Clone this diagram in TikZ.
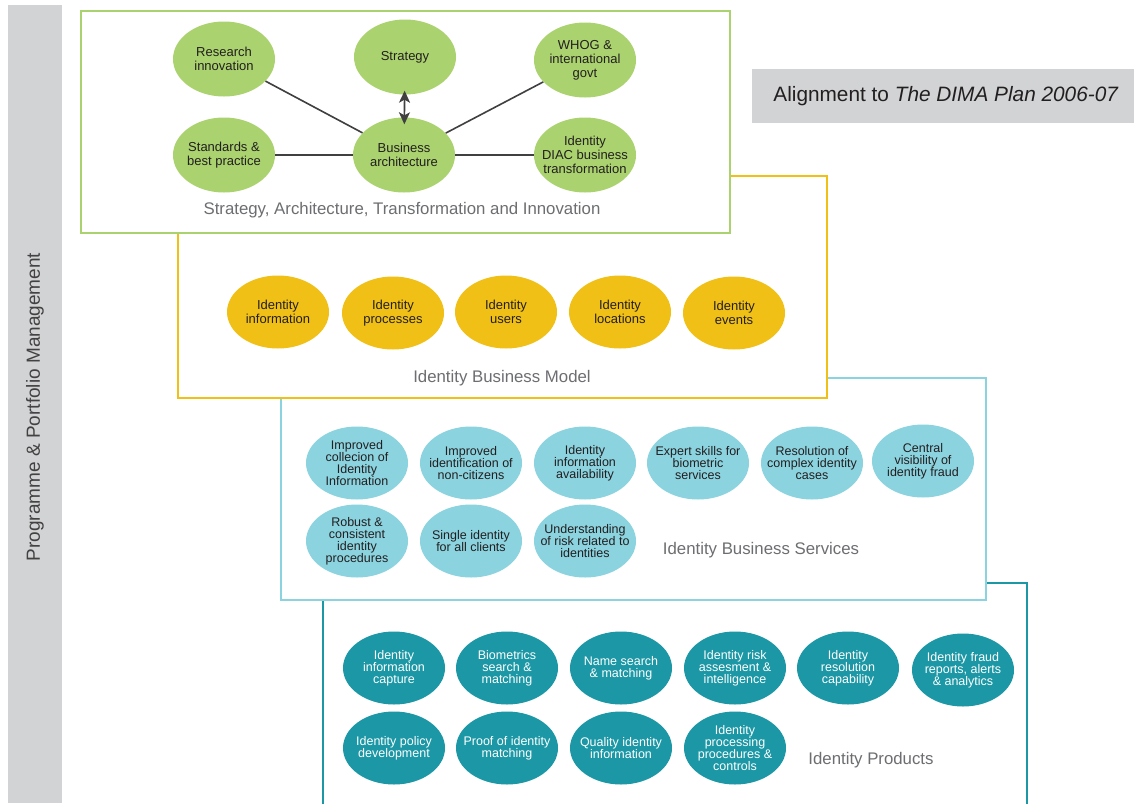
\documentclass[tikz,border=0pt]{standalone}
\usepackage{fontspec}
\setmainfont{Liberation Sans}
\usetikzlibrary{arrows.meta, shapes.geometric}
\definecolor{leafgreen}{RGB}{170,210,110}
\definecolor{goldyellow}{RGB}{241,192,22}
\definecolor{paleteal}{RGB}{139,211,223}
\definecolor{deepteal}{RGB}{27,151,165}
\definecolor{panelgray}{RGB}{209,211,212}
\definecolor{captiongray}{RGB}{109,110,113}
\definecolor{inkgray}{RGB}{35,31,32}
\definecolor{linkgray}{RGB}{64,64,64}

\tikzset{
  bubble/.style={ellipse, minimum width=102pt, minimum height=73pt, inner sep=0pt},
  smalltxt/.style={align=center, text=inkgray, font=\fontsize{12.5}{12}\selectfont},
  bigtxt/.style={align=center, text=inkgray, font=\fontsize{13}{14}\selectfont},
  caption/.style={text=captiongray, font=\fontsize{16.8}{18}\selectfont},
  link/.style={draw=linkgray, line width=1.6pt},
  layerbox/.style={line width=2.8pt, fill=white},
}

\begin{document}
\begin{tikzpicture}[x=1pt, y=-1pt]
  \useasboundingbox (0,0) rectangle (1134,803);

  % SIDE PANEL
  \fill[panelgray] (8,5) rectangle (62,803);
  \node[rotate=90, text=inkgray!85, font=\fontsize{19}{20}\selectfont] (ppm) at (35,407) {Programme \& Portfolio Management};

  % ALIGNMENT TAG
  \fill[panelgray] (752,69) rectangle (1134,123);
  \node[text=inkgray, font=\fontsize{20.8}{22}\selectfont] (dima) at (946,96) {Alignment to \textit{The DIMA Plan 2006-07}};

  % PRODUCTS
  \draw[layerbox, draw=deepteal] (323,815) -- (323,583) -- (1027,583) -- (1027,815);
  \node[bubble, fill=deepteal, label={[smalltxt, text=white]center:{Identity\\information\\capture}}] (capt) at (394,668) {};
  \node[bubble, fill=deepteal, label={[smalltxt, text=white]center:{Biometrics\\search \&\\matching}}] (biom) at (507,668) {};
  \node[bubble, fill=deepteal, label={[smalltxt, text=white]center:{Name search\\\& matching}}] (name) at (621,668) {};
  \node[bubble, fill=deepteal, label={[smalltxt, text=white]center:{Identity risk\\assesment \&\\intelligence}}] (risk) at (735,668) {};
  \node[bubble, fill=deepteal, label={[smalltxt, text=white]center:{Identity\\resolution\\capability}}] (reso) at (848,668) {};
  \node[bubble, fill=deepteal, label={[smalltxt, text=white]center:{Identity fraud\\reports, alerts\\\& analytics}}] (frau) at (963,670) {};
  \node[bubble, fill=deepteal, label={[smalltxt, text=white]center:{Identity policy\\development}}] (poli) at (394,748) {};
  \node[bubble, fill=deepteal, label={[smalltxt, text=white]center:{Proof of identity\\matching}}] (proof) at (507,748) {};
  \node[bubble, fill=deepteal, label={[smalltxt, text=white]center:{Quality identity\\information}}] (qual) at (621,748) {};
  \node[bubble, fill=deepteal, label={[smalltxt, text=white]center:{Identity\\processing\\procedures \&\\controls}}] (ctrl) at (735,748) {};
  \node[caption] (prodcap) at (871,760) {Identity Products};

  % BUSINESS SERVICES
  \draw[layerbox, draw=paleteal] (281,378) rectangle (986,600);
  \node[bubble, fill=paleteal, label={[smalltxt]center:{Improved\\collecion of\\Identity\\Information}}] (coll) at (357,463) {};
  \node[bubble, fill=paleteal, label={[smalltxt]center:{Improved\\identification of\\non-citizens}}] (nonc) at (471,463) {};
  \node[bubble, fill=paleteal, label={[smalltxt]center:{Identity\\information\\availability}}] (avail) at (585,463) {};
  \node[bubble, fill=paleteal, label={[smalltxt]center:{Expert skills for\\biometric\\services}}] (skill) at (698,463) {};
  \node[bubble, fill=paleteal, label={[smalltxt]center:{Resolution of\\complex identity\\cases}}] (cases) at (812,463) {};
  \node[bubble, fill=paleteal, label={[smalltxt]center:{Central\\visibility of\\identity fraud}}] (visi) at (923,461) {};
  \node[bubble, fill=paleteal, label={[smalltxt]center:{Robust \&\\consistent\\identity\\procedures}}] (robu) at (357,541) {};
  \node[bubble, fill=paleteal, label={[smalltxt]center:{Single identity\\for all clients}}] (single) at (471,541) {};
  \node[bubble, fill=paleteal, label={[smalltxt]center:{Understanding\\of risk related to\\identities}}] (under) at (585,541) {};
  \node[caption] (servcap) at (761,550) {Identity Business Services};

  % BUSINESS MODEL
  \draw[layerbox, draw=goldyellow] (178,176) rectangle (827,398);
  \node[bubble, fill=goldyellow, label={[bigtxt]center:{Identity\\information}}] (binfo) at (278,312) {};
  \node[bubble, fill=goldyellow, label={[bigtxt]center:{Identity\\processes}}] (bproc) at (393,313) {};
  \node[bubble, fill=goldyellow, label={[bigtxt]center:{Identity\\users}}] (busers) at (506,312) {};
  \node[bubble, fill=goldyellow, label={[bigtxt]center:{Identity\\locations}}] (blocs) at (620,312) {};
  \node[bubble, fill=goldyellow, label={[bigtxt]center:{Identity\\events}}] (bevts) at (734,313) {};
  \node[caption] (modelcap) at (502,378) {Identity Business Model};

  % STRATEGY
  \draw[layerbox, draw=leafgreen] (81,11) rectangle (730,233);
  \node[bubble, minimum height=75pt, fill=leafgreen, label={[bigtxt]center:{Research\\innovation}}] (resi) at (224,59) {};
  \node[bubble, minimum height=75pt, fill=leafgreen, label={[bigtxt]center:{Strategy}}] (strat) at (405,57) {};
  \node[bubble, minimum height=75pt, fill=leafgreen, label={[bigtxt]center:{WHOG \&\\international\\govt}}] (whog) at (585,60) {};
  \node[bubble, minimum height=75pt, fill=leafgreen, label={[bigtxt]center:{Standards \&\\best practice}}] (stnd) at (224,155) {};
  \node[bubble, minimum height=75pt, fill=leafgreen, label={[bigtxt]center:{Business\\architecture}}] (barch) at (404,155) {};
  \node[bubble, minimum height=75pt, fill=leafgreen, label={[bigtxt]center:{Identity\\DIAC business\\transformation}}] (diac) at (585,155) {};
  \draw[link] (resi) -- (barch);
  \draw[link] (whog) -- (barch);
  \draw[link] (stnd) -- (barch);
  \draw[link] (diac) -- (barch);
  \draw[link, shorten <=-4pt, shorten >=-7pt, {Stealth[length=12pt,width=11pt,inset=3pt]}-{Stealth[length=12pt,width=11pt,inset=3pt]}] (strat) -- (barch);
  \node[caption] (stratcap) at (402,210) {Strategy, Architecture, Transformation and Innovation};
\end{tikzpicture}
\end{document}
